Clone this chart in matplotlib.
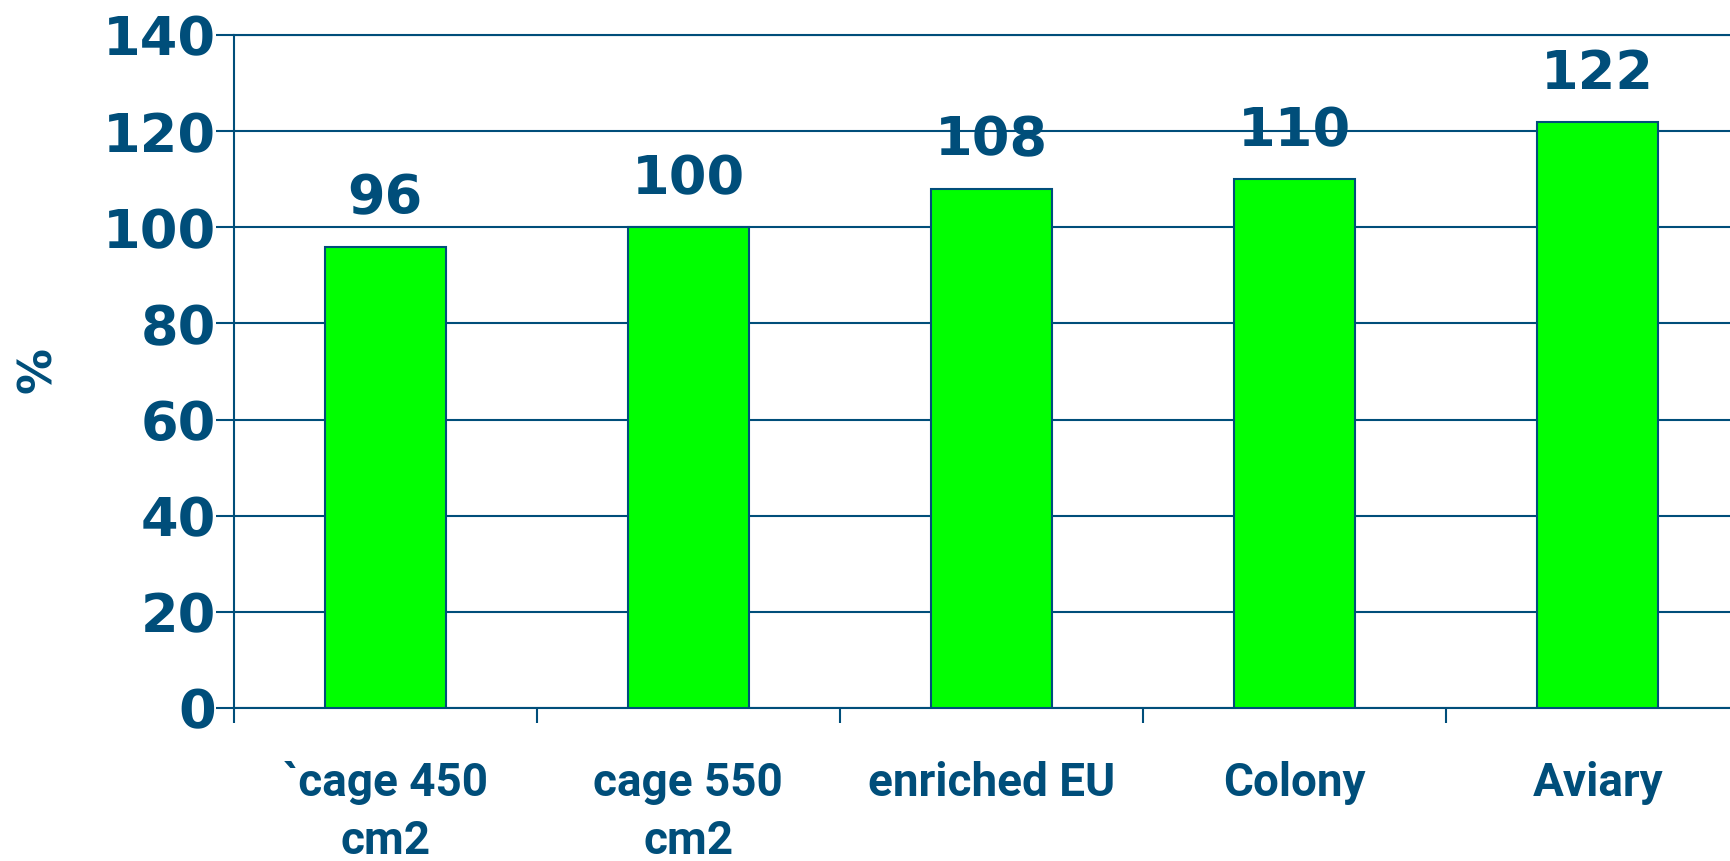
import matplotlib
matplotlib.use("Agg")
import matplotlib.pyplot as plt
import numpy as np

categories = ["`cage 450\ncm2", "cage 550\ncm2", "enriched EU", "Colony", "Aviary"]
values = [96, 100, 108, 110, 122]
yticks = [0, 20, 40, 60, 80, 100, 120, 140]

BLUE = "#004E7A"
GREEN = "#00FF00"
NUM_FONT = ["DejaVu Sans"]
LBL_FONT = ["Liberation Sans Narrow", "Roboto", "DejaVu Sans"]

fig = plt.figure(figsize=(17.31, 8.61), dpi=100)
ax = fig.add_axes([0.135, 0.178, 0.865, 0.781])

x = np.arange(len(categories))
ax.bar(x, values, width=0.40, color=GREEN, edgecolor=BLUE, linewidth=1.5, zorder=3)

ax.set_yticks(yticks)
ax.set_yticklabels([str(t) for t in yticks], family=NUM_FONT, fontweight="bold",
                   fontsize=39, color=BLUE)
ax.yaxis.grid(True, color=BLUE, linewidth=1.5, zorder=0)
ax.tick_params(axis="y", length=13, width=1.5, color=BLUE, pad=0)

ax.set_xticks(x)
ax.set_xticklabels(categories, family=LBL_FONT, fontweight="bold", fontsize=33,
                   color=BLUE, linespacing=1.4)
ax.tick_params(axis="x", which="major", length=0, pad=38)
ax.set_xticks(np.arange(-0.5, len(categories) - 1, 1.0), minor=True)
ax.tick_params(axis="x", which="minor", length=11, width=1.5, color=BLUE)

ax.set_xlim(-0.5, 4.44)
ax.set_ylim(0, 140)

for s in ["top", "right"]:
    ax.spines[s].set_visible(False)
for s in ["left", "bottom"]:
    ax.spines[s].set_color(BLUE)
    ax.spines[s].set_linewidth(1.5)
ax.axhline(140, color=BLUE, linewidth=1.5, clip_on=False)

for xi, v in zip(x, values):
    ax.annotate(str(v), (xi, v), xytext=(0, 16), textcoords="offset points",
                ha="center", va="bottom", family=NUM_FONT, fontweight="bold",
                fontsize=39, color=BLUE)

fig.text(0.022, 0.57, "%", rotation=90, ha="center", va="center",
         family=NUM_FONT, fontweight="bold", fontsize=33, color=BLUE)

fig.savefig("out.png", dpi=100)
